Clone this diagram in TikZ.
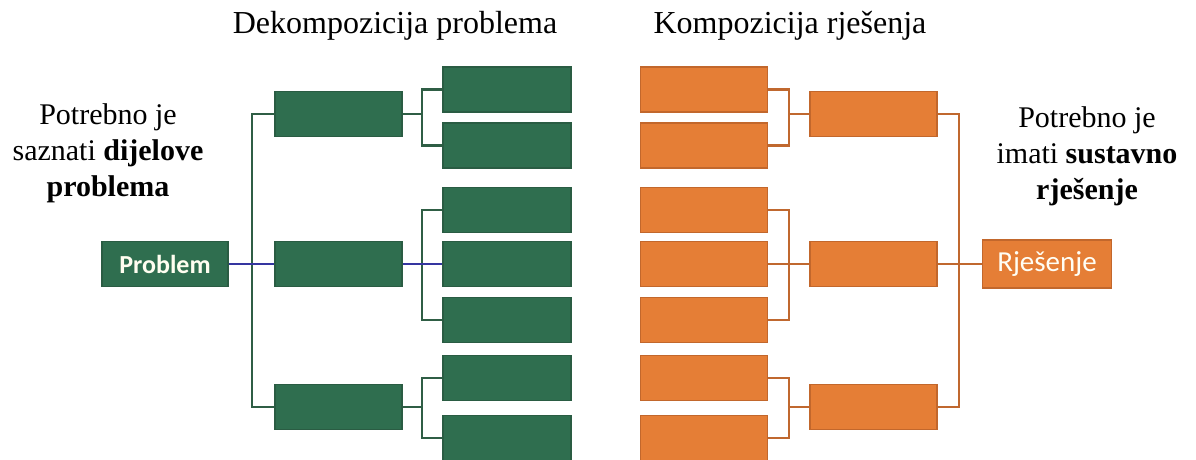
\documentclass[tikz,border=0pt]{standalone}
\usepackage{fontspec}
\setmainfont{Liberation Serif}
\newfontfamily\boxfont{Carlito}
\definecolor{gfill}{HTML}{2F6E4F}
\definecolor{gdraw}{HTML}{2A5C43}
\definecolor{gline}{HTML}{2F5E45}
\definecolor{ofill}{HTML}{E57E36}
\definecolor{odraw}{HTML}{C2672C}
\definecolor{oline}{HTML}{C0682F}
\definecolor{bline}{HTML}{3535A0}
\tikzset{
  gbox/.style={draw=gdraw, fill=gfill, line width=1.5pt, minimum width=126pt, minimum height=45pt, inner sep=0pt, text=white!94!yellow, font=\boxfont\fontsize{26}{30}\selectfont\bfseries},
  obox/.style={draw=odraw, fill=ofill, line width=1.5pt, minimum width=126pt, minimum height=45pt, inner sep=0pt, text=white!96!yellow, font=\boxfont\fontsize{29}{33}\selectfont},
  gconn/.style={draw=gline, line width=2.8pt},
  oconn/.style={draw=oline, line width=2.8pt},
  bconn/.style={draw=bline, line width=2.8pt},
  ttl/.style={font=\rmfamily\fontsize{32}{36}\selectfont, anchor=base},
  side/.style={font=\rmfamily\fontsize{30}{36}\selectfont, align=center, anchor=north},
}
\begin{document}
\begin{tikzpicture}[x=1pt,y=-1pt]
\useasboundingbox (0,0) rectangle (1196,459);
% titles
\node[ttl] (t1) at (395,33) {Dekompozicija problema};
\node[ttl] (t2) at (790,33) {Kompozicija rješenja};
% side texts
\node[side] (sl) at (108,100) {Potrebno je\\saznati \textbf{dijelove}\\\textbf{problema}};
\node[side] (sr) at (1087,103) {Potrebno je\\imati \textbf{sustavno}\\\textbf{rješenje}};
% coordinates for connector trunks
\coordinate (gtk) at (252,0);
\coordinate (gbx) at (422,0);
\coordinate (obx) at (789,0);
\coordinate (otk) at (959,0);
% green boxes
\node[gbox] (prob) at (165,264) {Problem};
\node[gbox, minimum width=127pt] (gm1) at (338.5,114) {};
\node[gbox, minimum width=127pt] (gm2) at (338.5,264) {};
\node[gbox, minimum width=127pt] (gm3) at (338.5,407) {};
\foreach \y [count=\i] in {89.5,145.5,210,264,320,378,438}
  \node[gbox, minimum width=128pt] (gr\i) at (507,\y) {};
% orange boxes
\foreach \y [count=\i] in {89.5,145.5,210,264,320,378,438}
  \node[obox, minimum width=127pt] (ol\i) at (704,\y) {};
\node[obox, minimum width=127pt] (om1) at (873.5,114) {};
\node[obox, minimum width=127pt] (om2) at (873.5,264) {};
\node[obox, minimum width=127pt] (om3) at (873.5,407) {};
\node[obox, minimum width=129pt, minimum height=48pt] (sol) at (1047,264) {Rješenje};
% green connectors
\draw[gconn] (gm1.west) -- (gm1.west -| gtk) -- (gm3.west -| gtk) -- (gm3.west);
\draw[gconn] (gr1.west) -- (gr1.west -| gbx) -- (gr2.west -| gbx) -- (gr2.west);
\draw[gconn] (gm1.east) -- (gm1.east -| gbx);
\draw[gconn] (gr3.west) -- (gr3.west -| gbx) -- (gr5.west -| gbx) -- (gr5.west);
\draw[gconn] (gr6.west) -- (gr6.west -| gbx) -- (gr7.west -| gbx) -- (gr7.west);
\draw[gconn] (gm3.east) -- (gm3.east -| gbx);
\draw[bconn] (prob.east) -- (gm2.west);
\draw[bconn] (gm2.east) -- (gr4.west);
% orange connectors
\draw[oconn] (ol1.east) -- (ol1.east -| obx) -- (ol2.east -| obx) -- (ol2.east);
\draw[oconn] (om1.west) -- (om1.west -| obx);
\draw[oconn] (ol3.east) -- (ol3.east -| obx) -- (ol5.east -| obx) -- (ol5.east);
\draw[oconn] (ol4.east) -- (om2.west);
\draw[oconn] (ol6.east) -- (ol6.east -| obx) -- (ol7.east -| obx) -- (ol7.east);
\draw[oconn] (om3.west) -- (om3.west -| obx);
\draw[oconn] (om1.east) -- (om1.east -| otk) -- (om3.east -| otk) -- (om3.east);
\draw[oconn] (om2.east) -- (sol.west);
\end{tikzpicture}
\end{document}
